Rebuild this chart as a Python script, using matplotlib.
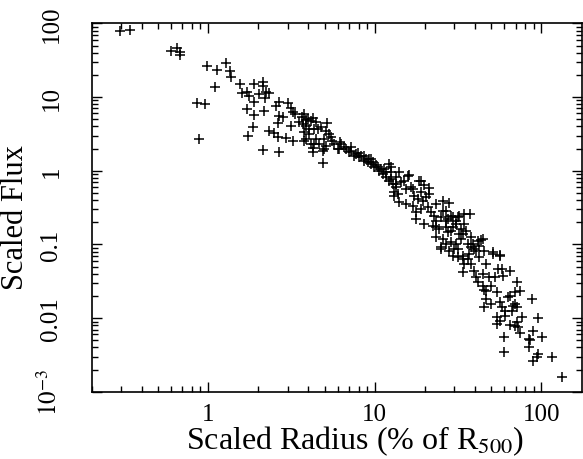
"""Scaled surface-brightness profiles: flux vs radius, log-log scatter."""

import numpy as np
import matplotlib
matplotlib.use("Agg")
import matplotlib.pyplot as plt
from matplotlib.ticker import FixedLocator, FixedFormatter, LogLocator, NullFormatter

# values, stored as log10(radius %R500) and log10(flux)
log_radius_inner = [-0.529, -0.469, -0.224, -0.188, -0.170, -0.170, -0.009, 0.051,
                    0.105, 0.129, 0.138, 0.039, -0.069, -0.021, -0.057]
log_flux_inner = [1.896, 1.909, 1.625, 1.672, 1.618, 1.570, 1.421, 1.367,
                  1.462, 1.354, 1.279, 1.137, 0.920, 0.906, 0.432]

log_radius_core = [0.194, 0.206, 0.236, 0.248, 0.278, 0.332, 0.332, 0.308, 0.350, 0.368,
                   0.344, 0.278, 0.236, 0.278, 0.338, 0.410, 0.428, 0.481, 0.499, 0.428,
                   0.451, 0.422, 0.511, 0.523, 0.547, 0.577, 0.589, 0.619, 0.631, 0.649,
                   0.589, 0.607, 0.661, 0.679, 0.709, 0.727, 0.739, 0.745, 0.697, 0.649,
                   0.589, 0.619, 0.631, 0.667, 0.691, 0.709, 0.756, 0.691, 0.272, 0.242,
                   0.368, 0.398, 0.422, 0.469, 0.511, 0.332, 0.428, 0.499, 0.577, 0.577,
                   0.607, 0.565, 0.715, 0.792, 0.780, 0.571, 0.601, 0.637, 0.637, 0.697,
                   0.631]
log_flux_core = [1.178, 1.056, 1.069, 1.015, 1.178, 1.205, 1.150, 1.042, 1.069, 1.056,
                 0.988, 0.934, 0.839, 0.757, 0.812, 0.879, 0.934, 0.920, 0.852, 0.744,
                 0.730, 0.649, 0.798, 0.771, 0.663, 0.771, 0.690, 0.676, 0.717, 0.663,
                 0.608, 0.568, 0.568, 0.595, 0.541, 0.500, 0.459, 0.405, 0.432, 0.432,
                 0.432, 0.364, 0.310, 0.364, 0.270, 0.337, 0.364, 0.107, 0.595, 0.473,
                 0.541, 0.514, 0.459, 0.446, 0.405, 0.283, 0.256, 0.608, 0.527, 0.405,
                 0.500, 0.730, 0.649, 0.392, 0.297, 0.636, 0.703, 0.568, 0.364, 0.297,
                 0.256]

log_radius_mid = [0.798, 0.816, 0.786, 0.846, 0.858, 0.876, 0.900, 0.906, 0.918, 0.936,
                  0.936, 0.960, 0.966, 0.978, 0.990, 0.996, 1.019, 1.025, 1.037, 1.049,
                  1.067, 1.085, 1.097, 1.067, 1.085, 1.109, 1.127, 1.139, 1.145, 1.115,
                  1.145, 1.097, 0.828, 0.888, 0.948, 1.007, 1.055, 1.127, 0.858, 0.978,
                  1.205, 1.097, 1.127, 1.157, 1.187, 1.217, 1.277, 1.295, 1.325, 1.325,
                  1.277, 1.235, 1.259, 1.289, 1.115, 1.187, 1.229, 1.247, 1.277, 1.319,
                  1.337, 1.354, 1.408, 1.444, 1.408, 1.199, 1.265, 1.175, 1.229, 1.307,
                  1.366]
log_flux_mid = [0.364, 0.324, 0.297, 0.256, 0.270, 0.202, 0.243, 0.188, 0.202, 0.202,
                0.134, 0.121, 0.161, 0.093, 0.121, 0.053, 0.053, -0.001, 0.026, -0.042,
                -0.015, 0.093, 0.053, -0.083, -0.137, -0.178, -0.218, -0.313, -0.421, -0.286,
                -0.015, -0.015, 0.297, 0.229, 0.161, 0.080, 0.026, -0.083, 0.324, 0.161,
                -0.056, -0.110, -0.178, -0.150, -0.245, -0.218, -0.137, -0.191, -0.232, -0.313,
                -0.286, -0.340, -0.381, -0.408, -0.340, -0.449, -0.476, -0.557, -0.516, -0.489,
                -0.557, -0.611, -0.408, -0.435, -0.543, -0.069, -0.137, -0.137, -0.245, -0.354,
                -0.449]

log_radius_outer = [1.366, 1.396, 1.438, 1.468, 1.498, 1.534, 1.570, 1.247, 1.295, 1.348,
                    1.384, 1.426, 1.456, 1.486, 1.516, 1.528, 1.366, 1.408, 1.426, 1.456,
                    1.486, 1.498, 1.558, 1.576, 1.618, 1.396, 1.444, 1.468, 1.528, 1.564,
                    1.606, 1.624, 1.456, 1.504, 1.366, 1.438, 1.534, 1.504, 1.516, 1.636,
                    1.588, 1.396, 1.474, 1.594, 1.654, 1.624, 1.707, 1.755, 1.498, 1.528,
                    1.534, 1.558, 1.576, 1.665, 1.743, 1.767, 1.815, 1.528, 1.594, 1.606,
                    1.648, 1.683, 1.725, 1.773, 1.857, 1.618, 1.648, 1.665, 1.695, 1.737,
                    1.845, 1.875, 1.815, 1.665, 1.695, 1.755, 1.767, 1.654, 1.845, 1.827,
                    1.785, 1.426, 1.486, 1.546, 1.576, 1.426, 1.468, 1.648, 1.755, 1.707]
log_flux_outer = [-0.679, -0.625, -0.652, -0.625, -0.625, -0.584, -0.584, -0.652, -0.720, -0.747,
                  -0.787, -0.760, -0.814, -0.720, -0.787, -0.855, -0.896, -0.923, -0.991, -0.963,
                  -0.991, -1.058, -0.991, -1.031, -0.950, -1.058, -1.085, -1.153, -1.153, -1.126,
                  -1.085, -1.018, -0.611, -0.611, -0.760, -0.828, -0.720, -0.855, -0.923, -0.936,
                  -0.991, -1.031, -1.058, -1.058, -1.085, -1.167, -1.126, -1.153, -1.167, -1.194,
                  -1.262, -1.194, -1.262, -1.262, -1.329, -1.329, -1.356, -1.370, -1.356, -1.438,
                  -1.397, -1.438, -1.438, -1.424, -1.505, -1.505, -1.560, -1.627, -1.560, -1.641,
                  -1.641, -1.627, -1.695, -1.736, -1.804, -1.776, -1.844, -1.844, -1.804, -1.898,
                  -1.898, -0.543, -0.679, -0.814, -0.896, -0.679, -0.760, -0.923, -1.140, -1.099]

log_radius_edge = [1.654, 1.803, 1.946, 1.832, 1.857, 1.785, 1.737, 1.755, 1.737, 1.887,
                   1.982, 1.815, 1.845, 1.863, 1.857, 1.875, 1.952, 2.006, 1.935, 1.779,
                   1.929, 1.982, 1.976, 1.952, 1.779, 2.066, 2.126, 1.929]
log_flux_edge = [-1.614, -1.709, -1.736, -1.831, -1.844, -1.966, -1.980, -2.034, -2.074, -1.980,
                 -1.993, -2.088, -2.102, -2.115, -2.047, -2.196, -2.169, -2.251, -2.291, -2.251,
                 -2.386, -2.481, -2.522, -2.576, -2.454, -2.522, -2.793, -2.278]

x_ticks = [1, 10, 100]
x_tick_labels = ["1", "10", "100"]
y_ticks = [1e-3, 0.01, 0.1, 1, 10, 100]
y_tick_labels = ["$10^{-3}$", "0.01", "0.1", "1", "10", "100"]

plt.rcParams["font.family"] = ["Liberation Serif", "DejaVu Serif"]
plt.rcParams["mathtext.fontset"] = "stix"

log_r = np.concatenate([log_radius_inner, log_radius_core, log_radius_mid,
                        log_radius_outer, log_radius_edge])
log_f = np.concatenate([log_flux_inner, log_flux_core, log_flux_mid,
                        log_flux_outer, log_flux_edge])

fig = plt.figure(figsize=(5.83, 4.60), dpi=100)
ax = fig.add_axes([0.157, 0.146, 0.841, 0.801])

ax.plot(10 ** log_r, 10 ** log_f, linestyle="none", marker="+",
        markersize=7, markeredgewidth=1.1, color="black")

ax.set_xscale("log")
ax.set_yscale("log")
ax.set_xlim(0.2, 175)
ax.set_ylim(1e-3, 100)

ax.xaxis.set_major_locator(FixedLocator(x_ticks))
ax.xaxis.set_major_formatter(FixedFormatter(x_tick_labels))
ax.yaxis.set_major_locator(FixedLocator(y_ticks))
ax.yaxis.set_major_formatter(FixedFormatter(y_tick_labels))
ax.xaxis.set_minor_locator(LogLocator(base=10, subs=np.arange(2, 10), numticks=20))
ax.yaxis.set_minor_locator(LogLocator(base=10, subs=np.arange(2, 10), numticks=20))
ax.xaxis.set_minor_formatter(NullFormatter())
ax.yaxis.set_minor_formatter(NullFormatter())

ax.tick_params(which="both", direction="in", top=True, right=True, width=1.0)
ax.tick_params(which="major", length=7, labelsize=18)
ax.tick_params(which="minor", length=4)
ax.tick_params(axis="y", which="major", labelrotation=90, pad=21)
ax.tick_params(axis="x", which="major", pad=8)
for lbl in ax.get_yticklabels():
    lbl.set_verticalalignment("center")

for sp in ax.spines.values():
    sp.set_linewidth(1.2)

ax.set_xlabel("Scaled Radius (% of R$_{\\mathrm{500}}$)", fontsize=23)
ax.set_ylabel("Scaled Flux", fontsize=22)
ax.xaxis.set_label_coords(0.537, -0.085)
ax.yaxis.set_label_coords(-0.125, 0.475)

fig.savefig("out.png", dpi=100)
